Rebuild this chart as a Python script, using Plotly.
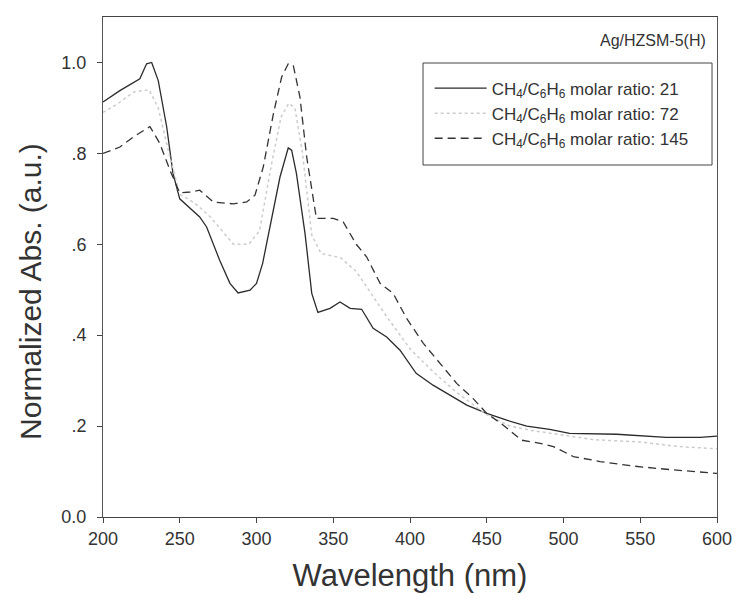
import plotly.graph_objects as go

# Series 1: CH4/C6H6 molar ratio 21 (solid)
x21 = [200, 211, 224, 228.4, 231.7, 236, 241.5, 245.6, 250, 254.5, 263, 267.5, 276, 282.7, 288,
       295.8, 300, 304, 308.8, 315.3, 320.7, 322.9, 326, 331.6, 336, 340, 347.9, 354.4, 361,
       368.5, 376, 384.8, 393.5, 404, 415, 426, 437, 450, 463, 476, 491, 504, 534.6, 567, 589, 600]
y21 = [0.913, 0.938, 0.964, 0.997, 1.0, 0.96, 0.858, 0.756, 0.70, 0.686, 0.66, 0.638, 0.565, 0.514, 0.493,
       0.499, 0.514, 0.558, 0.638, 0.748, 0.812, 0.807, 0.756, 0.624, 0.492, 0.45, 0.459, 0.473, 0.459,
       0.457, 0.415, 0.396, 0.367, 0.316, 0.29, 0.268, 0.246, 0.228, 0.213, 0.20, 0.193, 0.184, 0.182, 0.175, 0.175, 0.178]

# Series 2: CH4/C6H6 molar ratio 72 (faint dotted)
x72 = [200, 210, 220, 230, 236, 243, 250, 260, 270, 285, 295, 302, 310, 316, 321, 325, 330, 336, 342,
       355, 365, 375, 385, 400, 415, 430, 450, 465, 480, 500, 520, 550, 575, 600]
y72 = [0.89, 0.91, 0.935, 0.94, 0.90, 0.80, 0.71, 0.69, 0.66, 0.60, 0.60, 0.63, 0.78, 0.88, 0.91, 0.90, 0.80,
       0.62, 0.58, 0.57, 0.54, 0.49, 0.44, 0.37, 0.32, 0.275, 0.225, 0.20, 0.19, 0.18, 0.17, 0.165, 0.155, 0.15]

# Series 3: CH4/C6H6 molar ratio 145 (dashed)
x145 = [200, 211, 219.7, 230.6, 237, 243.6, 250, 256.7, 263, 271.9, 284.9, 293.6, 299, 304.4, 311, 316.4,
        320.7, 324, 328.3, 332.7, 339, 350, 356.5, 365, 371.8, 380.5, 389, 397.8, 408.7, 419.5, 430.4,
        441, 450, 460.8, 472.7, 484.7, 493.4, 506.4, 523.8, 545.5, 567, 600]
y145 = [0.80, 0.814, 0.836, 0.859, 0.822, 0.763, 0.713, 0.715, 0.719, 0.693, 0.689, 0.693, 0.708, 0.77, 0.887, 0.968,
        0.997, 0.993, 0.924, 0.792, 0.657, 0.657, 0.649, 0.60, 0.572, 0.514, 0.492, 0.437, 0.382, 0.338, 0.294,
        0.261, 0.228, 0.202, 0.169, 0.162, 0.155, 0.133, 0.122, 0.112, 0.105, 0.096]

series_names = [
    "CH<sub>4</sub>/C<sub>6</sub>H<sub>6</sub> molar ratio: 21",
    "CH<sub>4</sub>/C<sub>6</sub>H<sub>6</sub> molar ratio: 72",
    "CH<sub>4</sub>/C<sub>6</sub>H<sub>6</sub> molar ratio: 145",
]
x_ticks = [200, 250, 300, 350, 400, 450, 500, 550, 600]
y_tickvals = [0.0, 0.2, 0.4, 0.6, 0.8, 1.0]
y_ticktext = ["0.0", ".2", ".4", ".6", ".8", "1.0"]
sample_label = "Ag/HZSM-5(H)"
x_title = "Wavelength (nm)"
y_title = "Normalized Abs. (a.u.)"

FONT = "Liberation Sans, Arial, sans-serif"
TXT = "#333333"

fig = go.Figure()
fig.add_trace(go.Scatter(x=x21, y=y21, mode="lines", name=series_names[0], legendgroup="a",
                         line=dict(color="#2b2b2b", width=1.3)))
fig.add_trace(go.Scatter(x=x72, y=y72, mode="lines", name=series_names[1], legendgroup="b",
                         line=dict(color="#cccccc", width=1.5, dash="dot")))
fig.add_trace(go.Scatter(x=x145, y=y145, mode="lines", name=series_names[2], legendgroup="c",
                         line=dict(color="#333333", width=1.3, dash="8px,5px")))

fig.update_layout(
    width=734, height=597,
    margin=dict(l=103, r=17, t=17, b=80, autoexpand=False),
    paper_bgcolor="white", plot_bgcolor="white",
    font=dict(family=FONT, color=TXT),
    showlegend=True,
    hovermode=False,
    legend=dict(
        x=0.532, y=0.893, xanchor="left", yanchor="top",
        bgcolor="rgba(0,0,0,0)", borderwidth=0,
        font=dict(size=17, family=FONT, color=TXT),
        itemwidth=52, tracegroupgap=0,
    ),
    shapes=[dict(
        type="rect", xref="paper", yref="paper",
        x0=0.5212, x1=0.9919, y0=0.704, y1=0.908,
        line=dict(color="#444444", width=1), fillcolor="rgba(0,0,0,0)", layer="above",
    )],
    xaxis=dict(
        range=[200, 600], tickvals=x_ticks, ticks="outside", ticklen=5,
        tickcolor="#444444", showline=True, linecolor="#444444", linewidth=1,
        mirror=True, showgrid=False, zeroline=False, automargin=False,
        tickfont=dict(size=18, family=FONT, color=TXT),
        title=dict(text=x_title, font=dict(size=31, family=FONT, color=TXT), standoff=16),
    ),
    yaxis=dict(
        range=[0, 1.1], tickvals=y_tickvals, ticktext=y_ticktext, ticks="outside", ticklen=5,
        tickcolor="#444444", showline=True, linecolor="#555555", linewidth=1,
        mirror=True, showgrid=False, zeroline=False, automargin=False,
        ticklabelstandoff=7,
        tickfont=dict(size=18, family=FONT, color=TXT),
    ),
    annotations=[
        dict(text=sample_label, xref="paper", yref="paper", x=0.985, y=0.975,
             xanchor="right", yanchor="top", showarrow=False,
             font=dict(size=16, family=FONT, color=TXT)),
        dict(text=y_title, xref="paper", yref="paper", x=-0.119, y=0.452,
             xanchor="center", yanchor="middle", textangle=-90, showarrow=False,
             font=dict(size=30, family=FONT, color=TXT)),
    ],
)

fig.write_html("out.html",
               config={"displayModeBar": False},
               post_script="document.body.style.margin='0';document.body.style.overflow='hidden';")
